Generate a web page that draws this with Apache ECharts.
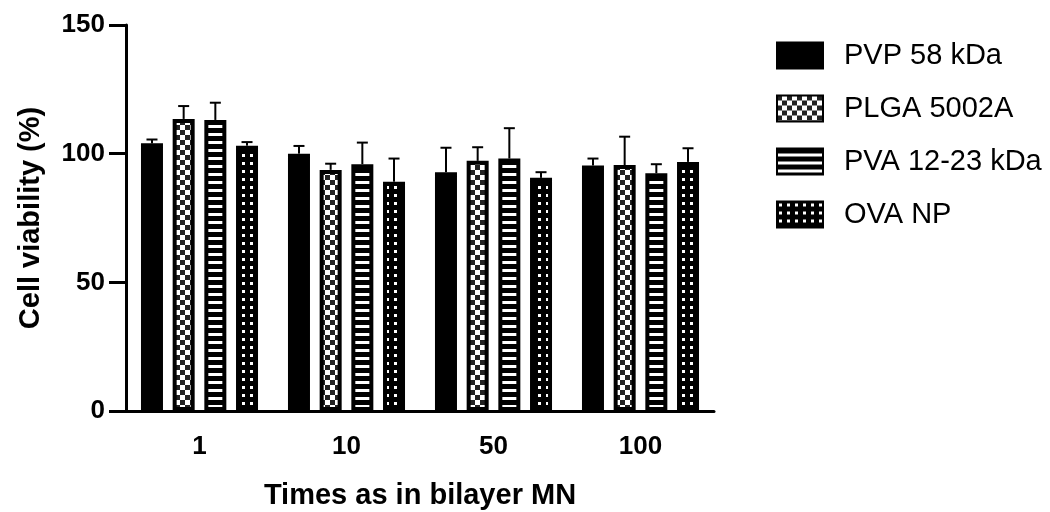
<!DOCTYPE html>
<html><head><meta charset="utf-8">
<script src="https://cdn.jsdelivr.net/npm/echarts@6/dist/echarts.min.js"></script>
<style>html,body{margin:0;padding:0;background:#fff}#c{width:1050px;height:512px}</style>
</head><body><div id="c"></div>
<script>
const categories = ['1', '10', '50', '100'];
const seriesNames = ['PVP 58 kDa', 'PLGA 5002A', 'PVA 12-23 kDa', 'OVA NP'];
const pvpMean  = [104.0, 100.0, 92.8, 95.4];
const pvpSd    = [1.5, 3.0, 9.5, 2.7];
const plgaMean = [113.5, 93.7, 97.2, 95.6];
const plgaSd   = [5.0, 2.4, 5.3, 11.0];
const pvaMean  = [113.1, 95.9, 98.1, 92.4];
const pvaSd    = [6.7, 8.4, 11.8, 3.5];
const ovaMean  = [103.1, 89.1, 90.6, 96.8];
const ovaSd    = [1.4, 9.0, 2.2, 5.3];
const yTicks = [0, 50, 100, 150];

const means = [pvpMean, plgaMean, pvaMean, ovaMean];
const sds = [pvpSd, plgaSd, pvaSd, ovaSd];

function makeCanvas(w, h, draw) {
  const c = document.createElement('canvas');
  c.width = w; c.height = h;
  draw(c.getContext('2d'));
  return c;
}
const checker = makeCanvas(10, 10, ctx => {
  ctx.fillStyle = '#fff'; ctx.fillRect(0, 0, 10, 10);
  ctx.fillStyle = '#222'; ctx.fillRect(0, 0, 5, 5); ctx.fillRect(5, 5, 5, 5);
});
const stripes = makeCanvas(8, 8, ctx => {
  ctx.fillStyle = '#000'; ctx.fillRect(0, 0, 8, 8);
  ctx.fillStyle = '#fff'; ctx.fillRect(0, 5, 8, 3);
});
const dots = makeCanvas(8, 8, ctx => {
  ctx.fillStyle = '#000'; ctx.fillRect(0, 0, 8, 8);
  ctx.fillStyle = '#fff'; ctx.fillRect(2, 2, 3, 3);
});
const fills = ['#000', { image: checker, repeat: 'repeat' }, { image: stripes, repeat: 'repeat' }, { image: dots, repeat: 'repeat' }];

const BAR_W = 22, BAR_GAP = 0.44;
const FONT = '"Liberation Sans", Arial, sans-serif';

const series = [];
seriesNames.forEach((name, i) => {
  series.push({
    name, type: 'bar', data: means[i],
    barWidth: BAR_W, barGap: (BAR_GAP * 100) + '%',
    itemStyle: { color: fills[i], borderColor: '#000', borderWidth: 4 },
    z: 2
  });
});
seriesNames.forEach((name, i) => {
  series.push({
    name: name + ' err', type: 'custom', z: 3,
    data: means[i].map((m, k) => [k, m, sds[i][k]]),
    encode: { x: 0, y: 1 },
    renderItem: (params, api) => {
      const cat = api.value(0), m = api.value(1), e = api.value(2);
      const base = api.coord([cat, m]);
      const top = api.coord([cat, m + e]);
      const x = base[0] + (i - 1.5) * BAR_W * (1 + BAR_GAP);
      const cap = 5.5;
      return {
        type: 'group',
        children: [
          { type: 'line', shape: { x1: x, y1: base[1], x2: x, y2: top[1] }, style: { stroke: '#000', lineWidth: 2 } },
          { type: 'line', shape: { x1: x - cap, y1: top[1], x2: x + cap, y2: top[1] }, style: { stroke: '#000', lineWidth: 2 } }
        ]
      };
    }
  });
});

const chart = echarts.init(document.getElementById('c'));
chart.setOption({
  animation: false,
  backgroundColor: '#fff',
  textStyle: { fontFamily: FONT },
  grid: { left: 126, right: 336, top: 25, bottom: 101, containLabel: false, outerBoundsMode: 'none' },
  legend: {
    data: seriesNames, orient: 'vertical', left: 771, top: 36,
    itemWidth: 46, itemHeight: 26, itemGap: 24, icon: 'rect',
    textStyle: { fontSize: 29, color: '#000', fontFamily: FONT, padding: [0, 0, 0, 16] }
  },
  xAxis: {
    type: 'category', data: categories,
    name: 'Times as in bilayer MN', nameLocation: 'middle', nameGap: 70,
    nameTextStyle: { fontSize: 29, fontWeight: 'bold', color: '#000', fontFamily: FONT },
    axisLine: { lineStyle: { color: '#000', width: 3 } },
    axisTick: { alignWithLabel: true, length: 10, lineStyle: { color: '#000', width: 3 } },
    axisLabel: { fontSize: 26, fontWeight: 'bold', color: '#000', margin: 23, fontFamily: FONT },
    splitLine: { show: false }
  },
  yAxis: {
    type: 'value', min: yTicks[0], max: yTicks[yTicks.length - 1], interval: yTicks[1] - yTicks[0],
    name: 'Cell viability (%)', nameLocation: 'middle', nameGap: 81, nameRotate: 90,
    nameTextStyle: { fontSize: 29, fontWeight: 'bold', color: '#000', fontFamily: FONT },
    axisLine: { show: true, lineStyle: { color: '#000', width: 3 } },
    axisTick: { show: true, length: 17, lineStyle: { color: '#000', width: 3 } },
    axisLabel: { fontSize: 26, fontWeight: 'bold', color: '#000', margin: 21, fontFamily: FONT },
    splitLine: { show: false }
  },
  series
});
</script>
</body></html>
